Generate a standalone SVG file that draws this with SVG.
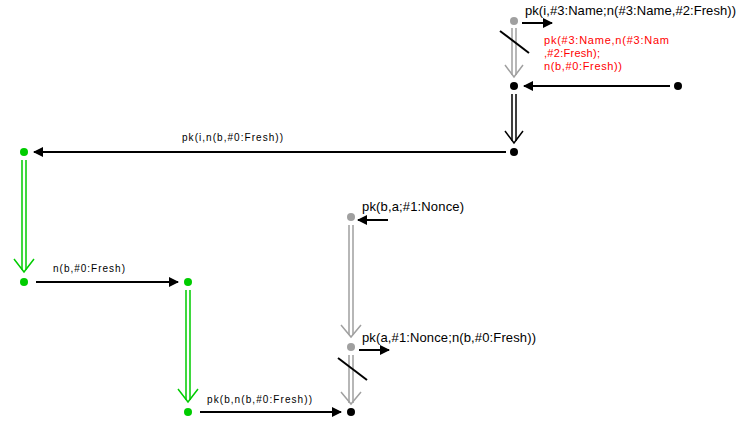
<svg xmlns="http://www.w3.org/2000/svg" width="738" height="421" viewBox="0 0 738 421">
  <style>
    text { font-family: "Liberation Sans", Arial, sans-serif; font-size: 10px; fill: #000; }
    text.big { font-size: 13px; }
    text.red { fill: #ff0000; font-size: 11px; }
    .msg { stroke: #000; stroke-width: 2; fill: none; }
    .seq { stroke-width: 1.5; fill: none; }
    .blk { stroke: #000; }
    .gry { stroke: #a0a0a0; }
    .grn { stroke: #00cc00; }
    .slash { stroke: #000; stroke-width: 2; }
  </style>
  <defs>
    <marker id="ah" viewBox="0 0 10 10" refX="9" refY="5" markerWidth="5" markerHeight="5" orient="auto" markerUnits="strokeWidth">
      <path d="M0,0 L10,5 L0,10 z" fill="#000"/>
    </marker>
  </defs>

  <!-- connectors -->
  <g id="connectors">
    <!-- messages -->
    <line class="msg" x1="522" y1="23" x2="552" y2="23" marker-end="url(#ah)"/>
    <line class="msg" x1="670" y1="86" x2="524" y2="86" marker-end="url(#ah)"/>
    <line class="msg" x1="506" y1="152" x2="34" y2="152" marker-end="url(#ah)"/>
    <line class="msg" x1="36" y1="282" x2="178" y2="282" marker-end="url(#ah)"/>
    <line class="msg" x1="200" y1="412" x2="341" y2="412" marker-end="url(#ah)"/>
    <line class="msg" x1="388" y1="220" x2="358" y2="220" marker-end="url(#ah)"/>
    <line class="msg" x1="359" y1="350" x2="389" y2="350" marker-end="url(#ah)"/>

    <!-- strand edges (double arrows) -->
    <g class="seq gry">
      <path d="M512,28 V75 M516,28 V75"/>
      <path d="M505,65 L514,77 L523,65"/>
    </g>
    <g class="seq blk">
      <path d="M512,94 V141 M516,94 V141"/>
      <path d="M505,131 L514,143 L523,131"/>
    </g>
    <g class="seq grn">
      <path d="M22,160 V270 M26,160 V270"/>
      <path d="M14,259 L24,272 L34,259"/>
    </g>
    <g class="seq grn">
      <path d="M186,290 V400 M190,290 V400"/>
      <path d="M178,389 L188,402 L198,389"/>
    </g>
    <g class="seq gry">
      <path d="M349,225 V335 M353,225 V335"/>
      <path d="M341,325 L351,337 L361,325"/>
    </g>
    <g class="seq gry">
      <path d="M349,355 V403 M353,355 V403"/>
      <path d="M341,392 L351,404 L361,392"/>
    </g>

    <!-- crossed-out edges -->
    <line class="slash" x1="500" y1="31" x2="529" y2="53"/>
    <line class="slash" x1="338" y1="358" x2="367" y2="380"/>
  </g>

  <!-- nodes -->
  <g id="n-i1">
    <circle cx="514" cy="21" r="4" fill="#a0a0a0"/>
    <text class="big" x="525" y="15" textLength="211" lengthAdjust="spacing">pk(i,#3:Name;n(#3:Name,#2:Fresh))</text>
  </g>
  <g id="n-i2">
    <circle cx="514" cy="86" r="4" fill="#000"/>
    <text class="red" x="544" y="44" textLength="125" lengthAdjust="spacing">pk(#3:Name,n(#3:Nam</text>
    <text class="red" x="544" y="57" textLength="56" lengthAdjust="spacing">,#2:Fresh);</text>
    <text class="red" x="544" y="70" textLength="78" lengthAdjust="spacing">n(b,#0:Fresh))</text>
  </g>
  <g id="n-i3">
    <circle cx="514" cy="152" r="4" fill="#000"/>
    <text x="182" y="141" textLength="101" lengthAdjust="spacing">pk(i,n(b,#0:Fresh))</text>
  </g>
  <g id="n-src">
    <circle cx="678" cy="86" r="4" fill="#000"/>
  </g>
  <g id="n-b1">
    <circle cx="24" cy="152" r="4" fill="#00cc00"/>
  </g>
  <g id="n-b2">
    <circle cx="24" cy="282" r="4" fill="#00cc00"/>
    <text x="53" y="272" textLength="72" lengthAdjust="spacing">n(b,#0:Fresh)</text>
  </g>
  <g id="n-p1">
    <circle cx="188" cy="282" r="4" fill="#00cc00"/>
  </g>
  <g id="n-p2">
    <circle cx="188" cy="412" r="4" fill="#00cc00"/>
    <text x="207" y="403" textLength="105" lengthAdjust="spacing">pk(b,n(b,#0:Fresh))</text>
  </g>
  <g id="n-a1">
    <circle cx="351" cy="217" r="4" fill="#a0a0a0"/>
    <text class="big" x="362" y="211" textLength="102" lengthAdjust="spacing">pk(b,a;#1:Nonce)</text>
  </g>
  <g id="n-a2">
    <circle cx="351" cy="347" r="4" fill="#a0a0a0"/>
    <text class="big" x="362" y="342" textLength="174" lengthAdjust="spacing">pk(a,#1:Nonce;n(b,#0:Fresh))</text>
  </g>
  <g id="n-a3">
    <circle cx="351" cy="412" r="4" fill="#000"/>
  </g>
</svg>
